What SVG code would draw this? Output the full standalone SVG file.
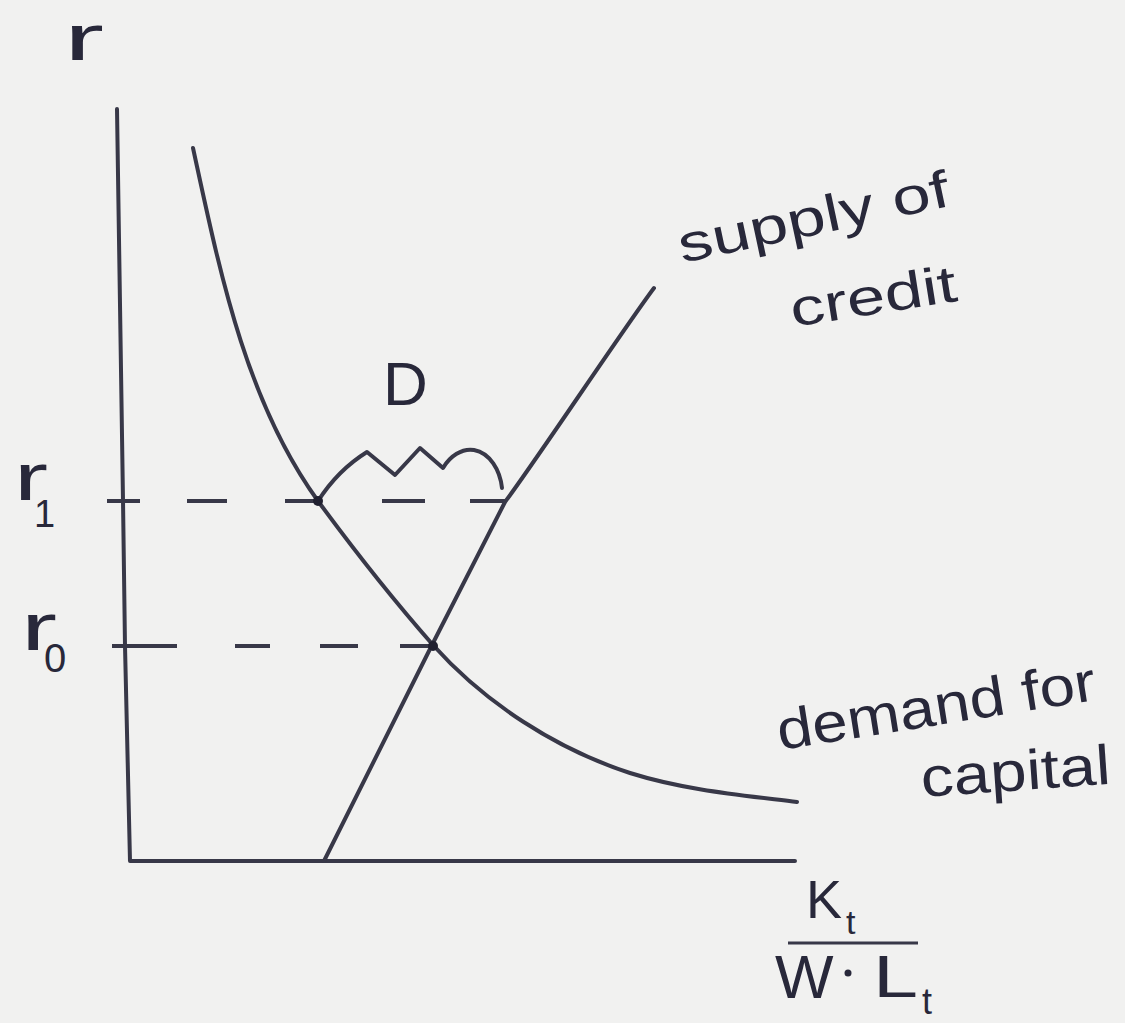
<svg xmlns="http://www.w3.org/2000/svg" width="1125" height="1023" viewBox="0 0 1125 1023">
<style>
.ln{fill:none;stroke:#383848;stroke-width:4;stroke-linecap:round;stroke-linejoin:round}
.ds{fill:none;stroke:#383848;stroke-width:4;stroke-linecap:butt}
.tx{font-family:"Liberation Sans","DejaVu Sans",sans-serif;fill:#28283a}
</style>
<rect x="0" y="0" width="1125" height="1023" fill="#f1f1f0"/>
<g id="axes">
<path class="ln" d="M117,109 L123,500 L125,646 L130,861 L795,861"/>
</g>
<g id="demand-curve">
<path class="ln" d="M193,148 C219.5,270 245,400 318,501 C354,550 392.5,599 433,645 C485,703 556,749 630,773 C684,790 740,795 797,802"/>
</g>
<g id="supply-curve">
<path class="ln" d="M324,861 L432,645 L505,502 C535,462 624,328 654,288"/>
</g>
<g id="connectors">
<line class="ds" x1="107" y1="501" x2="140" y2="501"/>
<line class="ds" x1="187" y1="501" x2="227" y2="501"/>
<line class="ds" x1="285" y1="501" x2="318" y2="501"/>
<line class="ds" x1="382" y1="501" x2="425" y2="501"/>
<line class="ds" x1="470" y1="501" x2="505" y2="501"/>
<line class="ds" x1="112" y1="646" x2="177" y2="646"/>
<line class="ds" x1="235" y1="646" x2="270" y2="646"/>
<line class="ds" x1="320" y1="646" x2="358" y2="646"/>
<line class="ds" x1="400" y1="646" x2="433" y2="646"/>
<path class="ln" d="M318,501 Q338,470 367,452 L395,475 L420,448 L443,468 C450,456 462,448 474,450 C490,453 500,470 502,488"/>
<circle cx="318" cy="501" r="5" fill="#202030"/>
<circle cx="433" cy="646" r="5" fill="#202030"/>
</g>
<g id="label-r">
<text class="tx" x="64" y="60" font-size="64" textLength="40" lengthAdjust="spacingAndGlyphs">r</text>
</g>
<g id="label-r1">
<text class="tx" x="14" y="500" font-size="66" textLength="34" lengthAdjust="spacingAndGlyphs">r</text>
<text class="tx" x="34" y="527" font-size="38">1</text>
</g>
<g id="label-r0">
<text class="tx" x="21" y="650" font-size="66" textLength="36" lengthAdjust="spacingAndGlyphs">r</text>
<text class="tx" x="44" y="672" font-size="40">0</text>
</g>
<g id="label-D">
<text class="tx" x="383" y="405" font-size="62">D</text>
</g>
<g id="label-supply">
<text class="tx" x="682" y="263" font-size="52" textLength="276" lengthAdjust="spacingAndGlyphs" transform="rotate(-12 682 263)">supply of</text>
<text class="tx" x="793" y="327" font-size="52" textLength="168" lengthAdjust="spacingAndGlyphs" transform="rotate(-9 793 327)">credit</text>
</g>
<g id="label-demand">
<text class="tx" x="780" y="750" font-size="56" textLength="322" lengthAdjust="spacingAndGlyphs" transform="rotate(-9 780 750)">demand for</text>
<text class="tx" x="922" y="797" font-size="56" textLength="190" lengthAdjust="spacingAndGlyphs" transform="rotate(-4 922 797)">capital</text>
</g>
<g id="label-x">
<text class="tx" x="806" y="918" font-size="54">K</text>
<text class="tx" x="846" y="934" font-size="34">t</text>
<line x1="788" y1="943" x2="918" y2="943" stroke="#383848" stroke-width="3"/>
<text class="tx" x="775" y="998" font-size="62">W</text>
<circle cx="848" cy="973" r="3.5" fill="#28283a"/>
<text class="tx" x="873" y="997" font-size="60" textLength="45" lengthAdjust="spacingAndGlyphs">L</text>
<text class="tx" x="922" y="1014" font-size="36">t</text>
</g>
</svg>
